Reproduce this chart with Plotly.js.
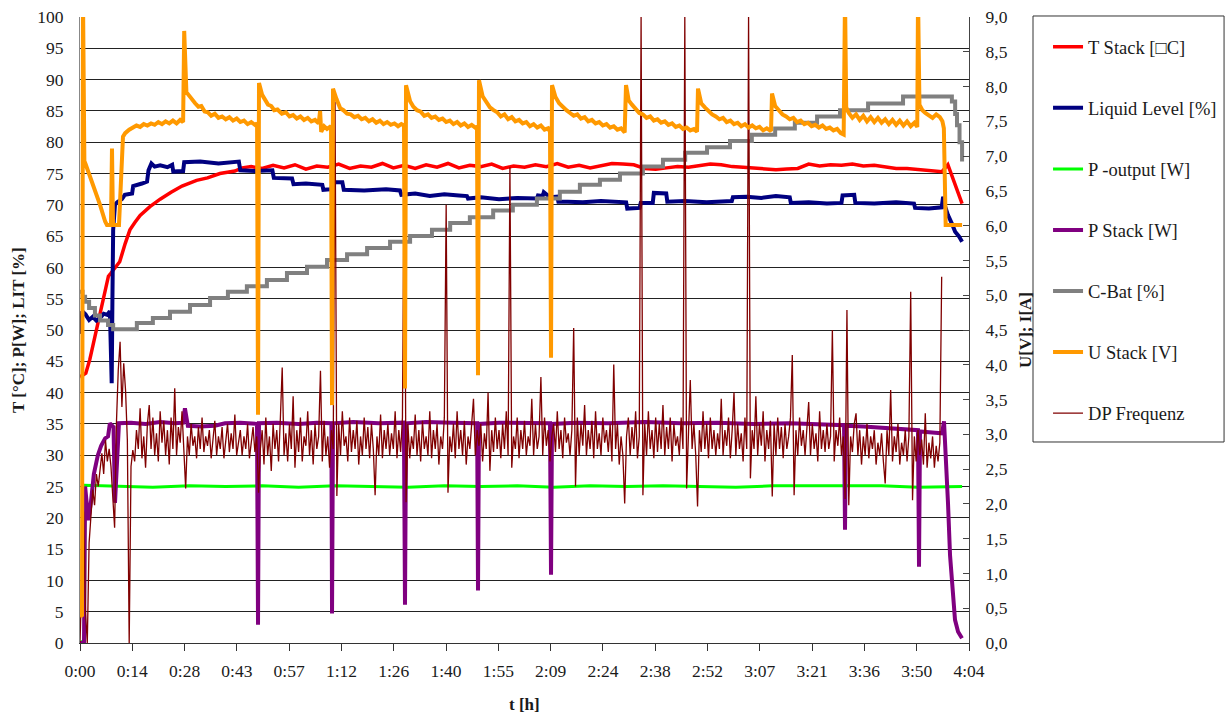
<!DOCTYPE html>
<html>
<head>
<meta charset="utf-8">
<script src="https://cdn.plot.ly/plotly-3.0.1.min.js"></script>
<style>html,body{margin:0;padding:0;background:#fff}#chart{width:1225px;height:713px}</style>
</head>
<body>
<div id="chart"></div>
<script>
// ---- x axis tick labels (time h:mm), axis spans 0..244 min ----
const tickLabels = ['0:00','0:14','0:28','0:43','0:57','1:12','1:26','1:40','1:55','2:09','2:24','2:38','2:52','3:07','3:21','3:36','3:50','4:04'];
const tMaxMin = 244;

// ---- series names ----
const seriesNames = ['T Stack [\u25A1C]', 'Liquid Level [%]', 'P -output [W]', 'P Stack [W]', 'C-Bat [%]', 'U Stack [V]', 'DP Frequenz'];

// ---- T Stack [°C] (time in minutes) ----
const tStackT = [0,1.6,2.7,4.1,5.0,6.3,7.8,8.5,9.5,10.9,12.4,13.7,15.1,16.5,19.2,22.0,25.0,28.0,32.0,35.0,38.4,42.5,44.5,47,
50,53,56,59,62,65,68,71,74,77,80,83,86,89,92,95,98,101,104,107,110,113,116,119,122,125,128,131,134,137,140,143,146,149,152,155,158,161,164,167,170,173,176,179,182,185,188,191,194,197,200,203,206,209,212,215,218,221,224,227,230,233,
236.6,238.2,240.2,242.1];
const tStack = [42.5,43.1,45.3,49.0,51.6,55.0,58.6,59.1,59.8,60.9,63.8,66.0,67.2,68.3,69.7,70.9,72.0,73.0,73.9,74.3,75.0,75.4,75.9,76.1,
75.8,76.3,75.9,76.4,75.7,76.2,76.0,76.5,75.8,76.2,76.0,76.6,75.9,76.3,75.8,76.4,76.0,76.6,75.9,76.3,76.1,76.5,75.8,76.2,76.0,76.4,76.1,76.6,76.0,76.3,75.9,76.2,76.6,76.5,76.4,75.8,75.7,75.9,76.1,76.0,76.3,76.5,76.4,76.1,76.0,75.9,75.7,75.6,75.7,75.8,76.5,76.2,76.4,76.3,76.5,76.2,76.3,76.0,75.8,75.8,75.6,75.5,
75.3,76.4,73.2,70.2];

// ---- Liquid Level [%] ----
const liqT = [0,0.4,0.6,1.5,2.5,3.5,4.5,5.5,6.5,7.5,8.2,8.5,8.7,8.9,9.1,9.6,10.2,11.5,12.3,14.3,14.6,17.0,18.4,18.8,19.6,20.5,22.0,24.0,25.3,25.6,28.3,28.6,33,38,43.6,44.0,48,52.8,53.2,58.2,58.6,62,66.5,66.8,69.0,69.3,72.0,72.4,78,84,87.8,88.2,92,96,100,104,106.2,106.5,110,115,120,125.4,125.7,127,127.3,129,131,131.3,133.6,133.9,138,143,149.9,150.2,153.6,153.9,157.2,157.5,160.9,161.2,166,172,178.9,179.2,183,187,191,194.8,195.1,200,205,209.0,209.3,212.5,212.8,218,224,228.9,229.2,233,236.5,236.9,237.3,238.2,239.3,240.2,241.2,242.1];
const liqLevel = [50,49.5,53,52.5,51.6,52.1,51.5,51.9,52.6,52.4,53,48,41.5,55,66,70,70.4,70.9,71.6,71.8,73.0,73.4,73.7,75.5,76.6,76.1,76.3,76.0,76.4,75.3,75.4,76.8,76.9,76.6,76.9,75.5,75.4,75.5,74.3,74.2,73.3,73.4,73.2,72.4,72.5,73.6,73.6,72.4,72.3,72.5,72.3,71.6,71.8,71.4,71.7,71.5,71.4,71.0,71.2,70.9,71.1,71.0,71.5,71.4,72.0,71.2,71.3,70.5,70.6,70.5,70.4,70.6,70.4,69.4,69.5,70.3,70.3,71.9,71.8,70.5,70.6,70.4,70.6,71.2,71.3,71.1,71.4,71.2,70.3,70.4,70.2,70.3,71.5,71.6,70.3,70.2,70.4,70.2,69.5,69.4,69.6,71.3,70.0,68.4,67.0,65.7,65.0,64.1];

// ---- P -output [W] ----
const pOutT = [0,1.2,1.4,10,20,30,40,50,60,70,80,90,100,110,120,130,140,150,160,170,180,190,200,210,220,230,242.1];
const pOut = [0,0.5,25.2,25.1,24.9,25.1,25.0,25.1,24.9,25.1,25.0,24.9,25.1,25.0,25.1,24.9,25.1,25.0,25.1,25.0,24.9,25.1,25.1,25.0,25.1,24.9,25.0];

// ---- P Stack [W] ----
const pStackT = [0,1.1,1.4,2.3,3.0,3.8,4.9,5.8,6.9,7.7,8.2,9.2,9.6,10.1,10.7,14,18,22,26,28.3,28.8,29.6,33,37,39.8,44,48.58,48.86,49.13,54,60,65,69.0,69.17,69.44,75,82,88.9,89.2,89.5,95,102,109.0,109.24,109.5,115,122,129.0,129.28,129.55,136,145,155,165,175,185,195,205,209.7,209.97,210.24,215,222,228,230.0,230.28,230.55,234.7,236.6,237.14,237.7,238.24,238.8,239.34,240.16,241.0,242.08];
const pStack = [0,0,25,19.6,22.5,27,30,31.5,32.7,33,35.1,34.5,22.4,30,35.1,35.2,35.0,35.3,35.1,35.2,37.5,34.7,34.6,34.7,35.1,35.2,35.0,2.9,35.1,35.2,35.0,35.2,35.1,4.7,35.1,35.3,35.1,35.2,6.1,35.1,35.3,35.2,35.1,8.4,35.0,35.2,35.1,35.1,10.9,35.0,35.2,35.1,35.3,35.1,35.2,35.0,35.1,34.9,34.8,18.1,34.7,34.6,34.3,34.1,34.0,12.2,33.8,33.6,33.5,35.4,30,22.3,14,9.0,3.7,1.8,0.75];

// ---- C-Bat [%] (stepwise) ----
const cBatT = [0,0.7,1.4,2.5,4.1,5.5,7.7,9.1,15.6,20.0,24.7,30.2,35.7,40.6,45.8,51.3,56.8,62.3,67.8,73.3,78.8,85.1,90.6,96.6,101.6,107.0,113.4,118.8,125.4,131.7,137.2,142.7,148.2,154.5,160.0,166.1,172.1,178.4,184.4,190.8,196.2,202.3,208.6,216.3,225.9,238.2,239.3,240.2,240.7,241.4,242.1];
const cBat = [56.1,55.3,54.5,53.5,52.3,51.5,50.8,50.1,51.1,51.9,52.9,54.0,55.1,56.1,57.0,58.0,59.1,60.1,61.2,62.1,63.1,64.1,65.0,66.0,67.1,68.0,69.1,70.0,71.0,72.1,73.2,74.0,75.0,76.1,77.2,78.3,79.2,80.2,81.2,82.2,83.1,84.1,85.1,86.2,87.3,87.3,86.5,84.5,82.7,80.0,76.9];

// ---- U Stack [V] (right axis) ----
const uStackT = [0,0.55,0.82,1.2,1.5,2.7,4.1,5.5,6.9,7.4,8.5,8.78,9.06,10.7,11.8,12.4,13.5,14.5,15.5,16.5,17.5,18.5,19.5,20.5,21.5,22.5,23.5,24.5,25.5,26.5,27.5,28.3,28.6,29.2,30.2,31.0,31.6,32.5,33.3,34.2,35.1,36.0,37.0,38.0,39.0,40.0,41.0,42.0,43.0,44.0,45.0,46.0,47.0,48.0,48.6,48.86,49.13,
50.0,51.0,51.6,52.5,53.3,54.2,55.4,56.5,57.5,58.5,59.5,60.5,61.5,62.5,63.5,64.5,65.5,65.9,66.2,67.0,67.8,68.6,68.9,69.17,69.44,
70.4,71.4,72.3,73.3,74.3,75.3,76.3,77.3,78.3,79.3,80.3,81.3,82.3,83.3,84.3,85.3,86.3,87.3,88.2,88.93,89.2,89.48,
90.6,91.5,92.5,93.5,94.5,95.5,96.5,97.5,98.5,99.5,100.5,101.5,102.5,103.5,104.5,105.5,106.5,107.5,108.5,108.96,109.24,109.51,
110.5,111.5,112.5,113.5,114.5,115.5,116.5,117.5,118.5,119.5,120.5,121.5,122.5,123.5,124.5,125.5,126.5,127.5,128.5,129.0,129.28,129.55,
130.5,131.5,132.5,133.5,134.5,135.5,136.5,137.5,138.5,139.5,140.5,141.5,142.5,143.5,144.5,145.5,146.5,147.5,148.5,149.5,149.86,
150.6,151.5,152.5,153.5,154.5,155.5,156.5,157.5,158.5,159.5,160.5,161.5,162.5,163.5,164.5,165.5,166.5,167.5,168.5,169.35,169.62,
170.5,171.5,172.5,173.5,174.5,175.5,176.5,177.5,178.5,179.5,180.5,181.5,182.5,183.5,184.5,185.5,186.5,187.5,188.5,189.66,189.93,
190.8,191.8,192.8,193.8,194.8,195.8,196.8,197.8,198.8,199.8,200.8,201.8,202.8,203.8,204.8,205.8,206.8,207.8,208.8,209.6,209.97,
210.3,211.0,212.0,213.0,214.0,215.0,216.0,217.0,218.0,219.0,220.0,221.0,222.0,223.0,224.0,225.0,226.0,227.0,228.0,229.0,229.8,230.01,
230.4,231.2,232.0,233.0,234.0,235.0,236.0,236.7,237.1,237.6,240.0,242.1];
const uStack = [0.38,0.40,9.3,6.93,6.89,6.71,6.54,6.30,6.06,6.01,6.01,7.11,6.01,6.01,7.28,7.33,7.38,7.41,7.44,7.42,7.46,7.44,7.47,7.45,7.49,7.46,7.50,7.47,7.51,7.47,7.52,7.49,8.80,7.92,7.85,7.79,7.76,7.71,7.72,7.64,7.63,7.58,7.61,7.55,7.57,7.53,7.56,7.51,7.54,7.49,7.51,7.46,7.49,7.45,7.47,3.28,8.05,
7.88,7.80,7.74,7.72,7.66,7.67,7.61,7.63,7.57,7.59,7.54,7.57,7.52,7.55,7.50,7.52,7.47,7.65,7.35,7.43,7.39,7.42,7.41,3.42,7.97,
7.82,7.69,7.66,7.61,7.60,7.56,7.58,7.53,7.55,7.50,7.53,7.48,7.51,7.46,7.49,7.45,7.47,7.43,7.46,7.44,3.66,8.02,
7.79,7.71,7.66,7.64,7.58,7.60,7.55,7.57,7.52,7.54,7.49,7.51,7.46,7.49,7.44,7.47,7.42,7.45,7.41,7.42,3.85,8.09,
7.86,7.79,7.70,7.66,7.63,7.57,7.60,7.53,7.56,7.50,7.52,7.47,7.49,7.43,7.46,7.41,7.44,7.38,7.40,7.35,4.10,8.02,
7.85,7.76,7.70,7.66,7.62,7.58,7.60,7.54,7.56,7.50,7.52,7.47,7.49,7.44,7.46,7.41,7.43,7.38,7.40,7.34,8.02,
7.80,7.74,7.68,7.62,7.60,7.55,7.57,7.51,7.53,7.48,7.50,7.45,7.47,7.42,7.44,7.39,7.41,7.37,7.39,7.35,7.97,
7.76,7.70,7.64,7.60,7.57,7.53,7.55,7.49,7.51,7.46,7.48,7.43,7.46,7.41,7.44,7.40,7.42,7.37,7.40,7.36,7.90,
7.72,7.66,7.60,7.57,7.53,7.55,7.49,7.51,7.46,7.48,7.43,7.45,7.41,7.44,7.39,7.41,7.37,7.39,7.33,7.31,9.3,
7.70,7.62,7.55,7.60,7.52,7.58,7.50,7.56,7.49,7.55,7.48,7.53,7.46,7.52,7.45,7.51,7.44,7.50,7.43,7.48,7.42,9.3,
7.74,7.66,7.62,7.58,7.55,7.60,7.56,7.50,7.40,6.01,6.01,6.01];

// ---- DP Frequenz, sampled every 0.5 min from t = 0 ----
const dpStepMin = 0.5;
const dpFreq = [
0,10,21,5,0,16,19.6,24.5,22,27,
25,28.2,30.3,27,32.4,29,31,28.2,22.4,18.4,
35.1,43.6,48.1,37.7,44.7,40.4,32.4,0,28.2,30.8,
29,34,31,37.5,29.5,33,28,35,38,31,
36,30,33.5,29,37,32,35.5,30,34,28.5,
36,31,40.7,30,34.5,32,37,29.5,24.7,33,
30,35,31.5,33,29.5,34.5,31,36,30.5,33,
31.5,34,29.5,32.5,35.5,30,33,31,34.5,29.5,
32,35,30.5,33.5,31,36.5,30,32.5,34,30,
33,31,35,29.5,32,34.5,30.5,33,24,31,
34,28.5,36,30,33,27.5,35,31,34,29,
36,44,30,33.5,29,35,31,39.4,28,34,
30.5,36,29,33,31.5,37,30,34,28.5,35,
31,33,43.5,29,35.5,30,33,28,34,31,
86.5,23.5,35,30,37,31.5,33,29,36,30.5,
34,31,35.5,28.5,33,30,36,31,34.5,29.5,
35,31,23.6,33,30,36.5,29.5,34,31,35,
30,33.5,31,37,29.5,34,30.5,36,79,22.5,
35,29.5,33,31,36.5,30,34,29,35.5,31,
33,30,37,29.5,34,31,35,28.5,33,31,
36,70,24,33,30.5,35,29.5,37,31,34,
30,35.5,28.5,33,31,36,39,30,34,31.5,
35,29,33.5,31,40,27.5,34,30.5,36,31,
34,29.5,35,31,37,30,76,28,33,31,
36,29.5,34,31,35.5,30,33,31.5,39,30,
35,31,33,42.5,30,36,31.5,34,29,33,
35,30.5,37,31,34,29.5,36,32,33.5,30,
34,50.3,25,36,30,35,31.5,38,30,34,
31,35.5,29.5,37,31,33.5,30,36,32,34,
30.5,35,29,44.5,31,35,28.5,33,30,22.3,
33,36,30,34.5,31,37,29.5,33,100,23.6,
35,30,37,31,34,29.5,36,30.5,35,31,
38,30,34.5,31,36,29,35,31.5,33,30,
36,31,100,24.7,34,42,31,35,30,21.8,
34,30.5,37,31,35,29.5,36,31,34,30,
33.5,31,39,30,34,31.5,36,29.5,34,40,
30,35,31,33.5,29,36,31,100,26.3,34,
31,39.4,30,35,31.5,37,29,34,31,35.5,
23.4,35,30,36,31,34.5,29.5,35,31,33,
36,46,23.6,34,30,36,31.5,34,30,35,
38.5,30,35,31,33.5,29,37,31,34,30.5,
35,31,33,50,29,34,31.5,36,30,33,
23,53.2,22,33,30.5,35,36.7,30,34,28.5,
33,30,35,29.5,33,31,34,28.5,32,30,
33.5,29,25.5,34,30,40.4,29,33,30.5,35,
28.5,32,30,34,29,33,56.1,22.8,33,29,
34,30,32.5,28.5,36.7,28,32,29.5,33,28,
31.5,29,32,58.5];
const dpT = dpFreq.map((_, i) => i * dpStepMin);

const tickVals = tickLabels.map((_, i) => i * tMaxMin / (tickLabels.length - 1));

const FONT = 'Liberation Serif, "Times New Roman", serif';
function line(x, y, name, color, width, extra) {
  return Object.assign({type: 'scatter', mode: 'lines', x: x, y: y, name: name, legendgroup: name,
    line: {color: color, width: width}, hoverinfo: 'skip'}, extra || {});
}

const data = [
  line(tStackT, tStack, seriesNames[0], '#FF0000', 3.5),
  line(liqT, liqLevel, seriesNames[1], '#000080', 4),
  line(pOutT, pOut, seriesNames[2], '#00FF00', 3),
  line(pStackT, pStack, seriesNames[3], '#800080', 4),
  line(cBatT, cBat, seriesNames[4], '#808080', 4, {line: {color: '#808080', width: 4, shape: 'hv'}}),
  line(uStackT, uStack, seriesNames[5], '#FF9900', 4, {yaxis: 'y2'}),
  line(dpT, dpFreq, seriesNames[6], '#800000', 1.3)
];

const layout = {
  width: 1225, height: 713,
  margin: {l: 80, r: 256, t: 17, b: 70, pad: 0, autoexpand: false},
  paper_bgcolor: '#ffffff', plot_bgcolor: '#ffffff',
  font: {family: FONT, size: 17, color: '#1a1a1a'},
  separators: ',.',
  showlegend: true,
  xaxis: {range: [0, tMaxMin], tickmode: 'array', tickvals: tickVals, ticktext: tickLabels,
    ticks: 'outside', ticklen: 7, tickcolor: '#333', tickwidth: 1, ticklabelstandoff: 5,
    showline: true, linecolor: '#333', linewidth: 1, showgrid: false, zeroline: false,
    tickfont: {size: 17.5, family: FONT}, fixedrange: true, automargin: false},
  yaxis: {range: [0, 100], tick0: 0, dtick: 5, showgrid: true, gridcolor: '#222', gridwidth: 1,
    showline: true, linecolor: '#888', linewidth: 1, ticks: '', zeroline: false,
    ticklabelstandoff: 12, tickfont: {size: 17.5, family: FONT}, fixedrange: true, automargin: false},
  yaxis2: {range: [0, 9], tick0: 0, dtick: 0.5, tickformat: '.1f', overlaying: 'y', side: 'right',
    showgrid: false, showline: true, linecolor: '#444', linewidth: 1, ticks: 'inside', ticklen: 6,
    tickcolor: '#444', zeroline: false, ticklabelstandoff: 12, tickfont: {size: 17.5, family: FONT}, fixedrange: true, automargin: false},
  legend: {x: 1.0889, xanchor: 'left', y: 0.982, yanchor: 'top', bgcolor: 'rgba(0,0,0,0)',
    borderwidth: 0, font: {size: 18.5, family: FONT, color: '#1a1a1a'}, tracegroupgap: 34},
  shapes: [{type: 'rect', xref: 'paper', yref: 'paper', x0: 1.072, x1: 1.2869, y0: 0.3211, y1: 1.0016,
    line: {color: '#333', width: 1}, fillcolor: 'rgba(0,0,0,0)'}],
  annotations: [
    {text: '<b>T [°C]; P[W]; LIT [%]</b>', xref: 'paper', yref: 'paper', x: -0.0697, y: 0.5,
      textangle: -90, showarrow: false, xanchor: 'center', yanchor: 'middle', font: {size: 17, family: FONT, color: '#1a1a1a'}},
    {text: '<b>U[V]; I[A]</b>', xref: 'paper', yref: 'paper', x: 1.063, y: 0.5,
      textangle: -90, showarrow: false, xanchor: 'center', yanchor: 'middle', font: {size: 17, family: FONT, color: '#1a1a1a'}},
    {text: '<b>t [h]</b>', xref: 'paper', yref: 'paper', x: 0.5, y: -0.099,
      showarrow: false, xanchor: 'center', yanchor: 'middle', font: {size: 17, family: FONT, color: '#1a1a1a'}}
  ]
};

Plotly.newPlot('chart', data, layout, {staticPlot: true, displayModeBar: false});
</script>
</body>
</html>
